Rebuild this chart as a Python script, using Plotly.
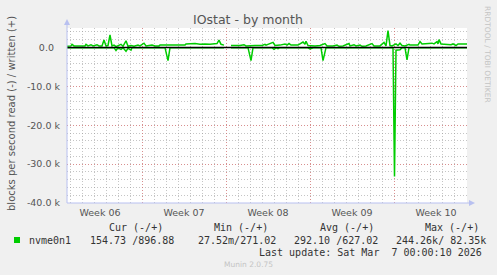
import plotly.graph_objects as go

# ---- data (x = hours since Mon 2026-02-02 00:00) ----
write_hours = [18, 26, 28, 32, 54, 56, 60, 66, 70, 78, 82, 88, 92, 96, 100, 104, 108, 112, 116, 120,
               126, 130, 134, 136, 140, 146, 152, 160, 164, 172, 176, 188, 194, 202, 204, 224, 234, 244,
               254, 256, 268, 274, 284, 294, 304, 314, 318, 322, 326, 332, 340,
               346, 364, 372, 376, 394, 408, 414, 416, 430, 434, 444, 454, 458, 462, 466, 480, 490, 494,
               496, 500, 514, 524, 534, 538, 550, 558, 562, 570, 582, 584, 592, 596, 604, 608, 616, 628,
               632, 644, 652, 656, 660, 664, 668, 676, 680, 684, 688, 694, 702, 704, 720, 724, 728, 740,
               748, 752, 758, 760, 762, 766, 774, 778, 786, 790, 796, 800, 818]
write_k = [0.3, 0.4, 0.8, 0.4, 0.4, 0.8, 0.4, 0.7, 0.4, 0.7, 0.4, 0.4, 1.9, 0.4, 0.5, 3.2, 0.4, 0.6, 0.2, 0.5,
           0.8, 0.3, 1.2, 1.7, 0.3, 0.5, 0.3, 0.6, 0.4, 1.1, 0.4, 0.6, 0.4, 0.4, 0.6, 0.6, 0.7, 0.6,
           0.6, 0.9, 0.9, 1.0, 0.8, 0.9, 0.8, 0.9, 1.0, 1.9, 0.8, 0.6, None,
           0.5, 0.5, 0.7, 0.4, 0.5, 0.5, 0.8, 0.6, 1.3, 0.5, 0.6, 0.9, 0.6, 1.0, 0.6, 0.6, 1.4, 0.8,
           1.6, 0.5, 0.4, 0.5, 1.0, 0.4, 0.4, 0.6, 0.3, 0.4, 1.0, 0.4, 0.7, 0.4, 0.6, 0.3, 0.4, 1.0,
           0.4, 0.4, 1.3, 0.4, 4.3, 0.5, 0.4, 0.9, 0.5, 1.1, 0.5, 0.4, 0.8, 0.6, 0.6, 1.5, 0.9, 1.0,
           1.1, 0.9, 1.5, 0.9, 2.0, 0.9, 0.8, 0.9, 0.7, 0.9, 0.5, 0.9, 0.9]

read_hours = [18, 112, 116, 120, 126, 130, 136, 140, 146, 148, 214, 220, 224, 332, 340,
              346, 380, 386, 390, 428, 432, 436, 440, 444, 500, 504, 508, 512, 526, 530, 536,
              670, 673, 676, 684, 688, 694, 698, 702, 818]
read_k = [0.05, 0.05, 0.8, 0.1, 0.5, 0.1, 1.0, 0.2, 0.7, 0.05, 0.05, 3.4, 0.05, 0.05, None,
          0.05, 0.05, 3.4, 0.05, 0.05, 0.5, 0.1, 0.3, 0.05, 0.1, 0.4, 0.3, 0.05, 0.05, 3.4, 0.05,
          0.05, 33.2, 0.7, 0.6, 0.05, 0.05, 3.2, 0.05, 0.05]

week_centers = [84, 252, 420, 588, 756]
week_labels = ["Week 06", "Week 07", "Week 08", "Week 09", "Week 10"]
week_bounds = [168, 336, 504, 672]
y_ticks = [0, -10000, -20000, -30000, -40000]
y_labels = ["0.0\u00a0\u00a0", "-10.0 k", "-20.0 k", "-30.0 k", "-40.0 k"]

series_name = "nvme0n1"
stat_headers = ["Cur (-/+)", "Min (-/+)", "Avg (-/+)", "Max (-/+)"]
stat_values = ["154.73 /896.88", "27.52m/271.02", "292.10 /627.02", "244.26k/ 82.35k"]
last_update = "Last update: Sat Mar  7 00:00:10 2026"

GREEN = "#00cc00"
W, H = 497, 275
L, R, T, B = 67, 30, 28, 72
PW, PH = W - L - R, H - T - B


def px(x):
    return (x - L) / PW


def py(y):
    return (H - B - y) / PH


fig = go.Figure()
fig.add_trace(go.Scatter(x=[], y=[], xaxis="x2", yaxis="y", showlegend=False, hoverinfo="skip"))
fig.add_trace(go.Scatter(
    x=read_hours, y=[None if v is None else -v * 1000 for v in read_k],
    mode="lines", line=dict(color=GREEN, width=1.5), connectgaps=False, showlegend=False))
fig.add_trace(go.Scatter(
    x=write_hours, y=[None if v is None else v * 1000 for v in write_k],
    mode="lines", line=dict(color=GREEN, width=1.5), connectgaps=False, showlegend=False))

grid_red = "rgba(235,90,90,0.5)"
grid_grey = "rgba(150,150,150,0.55)"
dots = "1px,2px"
tick_font = dict(family="DejaVu Sans", size=9.5, color="#555555")

fig.update_layout(
    width=W, height=H,
    margin=dict(l=L, r=R, t=T, b=B),
    paper_bgcolor="#f0f0f0", plot_bgcolor="white",
    showlegend=False,
    xaxis=dict(range=[18, 818], tickvals=week_centers, ticktext=week_labels,
               showgrid=False, zeroline=False, showline=False, ticks="",
               tickfont=tick_font, ticklabelstandoff=2,
               minor=dict(tick0=0, dtick=24, showgrid=True, gridcolor=grid_grey,
                          griddash=dots, gridwidth=1)),
    xaxis2=dict(overlaying="x", matches="x", anchor="y", range=[18, 818],
                tickvals=week_bounds, showticklabels=False, ticks="",
                showgrid=True, gridcolor=grid_red, griddash=dots, gridwidth=1,
                zeroline=False, showline=False),
    yaxis=dict(range=[-40000, 5000], tickvals=y_ticks, ticktext=y_labels,
               showgrid=True, gridcolor=grid_red, griddash=dots, gridwidth=1,
               zeroline=False, showline=False, ticks="", tickfont=tick_font,
               ticklabelstandoff=6,
               minor=dict(tick0=0, dtick=2000, showgrid=True, gridcolor=grid_grey,
                          griddash=dots, gridwidth=1)),
)

axis_col = "#b8c0f0"
shapes = [
    # zero rule
    dict(type="line", xref="paper", yref="y", x0=0, x1=1, y0=0, y1=0,
         line=dict(color="black", width=1.5), layer="above"),
    # axis lines with arrows
    dict(type="line", xref="paper", yref="paper", x0=0, x1=0, y0=0, y1=py(23),
         line=dict(color=axis_col, width=1), layer="above"),
    dict(type="line", xref="paper", yref="paper", x0=0, x1=px(470), y0=0, y1=0,
         line=dict(color=axis_col, width=1), layer="above"),
    dict(type="path", xref="paper", yref="paper",
         path=f"M {px(64)} {py(25)} L {px(70)} {py(25)} L {px(67)} {py(19)} Z",
         fillcolor=axis_col, line=dict(width=0), layer="above"),
    dict(type="path", xref="paper", yref="paper",
         path=f"M {px(469)} {py(200)} L {px(469)} {py(206)} L {px(475)} {py(203)} Z",
         fillcolor=axis_col, line=dict(width=0), layer="above"),
    # legend colour box
    dict(type="rect", xref="paper", yref="paper", x0=px(14), x1=px(20), y0=py(243), y1=py(237),
         fillcolor=GREEN, line=dict(width=0)),
]
fig.update_layout(shapes=shapes)

mono = dict(family="DejaVu Sans Mono", size=10, color="#333333")
ann = [
    dict(text="IOstat - by month", x=px(248), y=py(19), xanchor="center", yanchor="middle",
         font=dict(family="DejaVu Sans", size=12.5, color="#555555")),
    dict(text="blocks per second read (-) / written (+)", x=px(11), y=py(114),
         xanchor="center", yanchor="middle", textangle=-90,
         font=dict(family="DejaVu Sans", size=10, color="#555555")),
    dict(text="RRDTOOL / TOBI OETIKER", x=px(488), y=py(54), xanchor="center", yanchor="middle",
         textangle=90, font=dict(family="DejaVu Sans", size=7.5, color="#c4c4c4")),
    dict(text="Munin 2.0.75", x=px(248), y=py(264), xanchor="center", yanchor="middle",
         font=dict(family="DejaVu Sans", size=7.5, color="#c4c4c4")),
    dict(text=series_name, x=px(27), y=py(240), xanchor="left", yanchor="middle", font=mono),
    dict(text=last_update.replace(" ", "\u00a0"), x=px(484), y=py(252), xanchor="right",
         yanchor="middle", font=mono),
]
for hx, h in zip([107, 212, 318, 423], stat_headers):
    ann.append(dict(text=h.replace(" ", "\u00a0"), x=px(hx), y=py(227), xanchor="left",
                    yanchor="middle", font=mono))
for vx, v in zip([88, 196, 292, 394], stat_values):
    ann.append(dict(text=v.replace(" ", "\u00a0"), x=px(vx), y=py(240), xanchor="left",
                    yanchor="middle", font=mono))
for a in ann:
    a.update(xref="paper", yref="paper", showarrow=False)
fig.update_layout(annotations=ann)

fig.write_html("out.html")
